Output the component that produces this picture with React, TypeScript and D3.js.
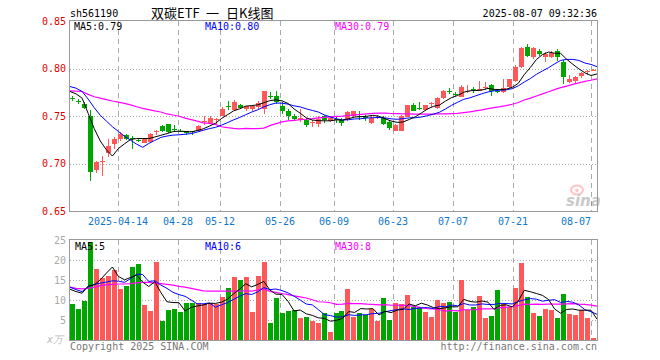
import React from "react";
import * as d3 from "d3";

// trading days shown (2025)
const dates = [
  "04-01", "04-02", "04-03", "04-07", "04-08", "04-09", "04-10", "04-11", "04-14", "04-15",
  "04-16", "04-17", "04-18", "04-21", "04-22", "04-23", "04-24", "04-25", "04-28", "04-29",
  "04-30", "05-06", "05-07", "05-08", "05-09", "05-12", "05-13", "05-14", "05-15", "05-16",
  "05-19", "05-20", "05-21", "05-22", "05-23", "05-26", "05-27", "05-28", "05-29", "05-30",
  "06-03", "06-04", "06-05", "06-06", "06-09", "06-10", "06-11", "06-12", "06-13", "06-16",
  "06-17", "06-18", "06-19", "06-20", "06-23", "06-24", "06-25", "06-26", "06-27", "06-30",
  "07-01", "07-02", "07-03", "07-04", "07-07", "07-08", "07-09", "07-10", "07-11", "07-14",
  "07-15", "07-16", "07-17", "07-18", "07-21", "07-22", "07-23", "07-24", "07-25", "07-28",
  "07-29", "07-30", "07-31", "08-01", "08-04", "08-05", "08-06", "08-07",
];

const opens = [
  0.769, 0.766, 0.763, 0.750, 0.694, 0.702, 0.711, 0.721, 0.726, 0.730,
  0.727, 0.725, 0.722, 0.723, 0.733, 0.740, 0.742, 0.737, 0.735, 0.734,
  0.734, 0.735, 0.744, 0.743, 0.746, 0.750, 0.761, 0.757, 0.762, 0.758,
  0.758, 0.760, 0.758, 0.771, 0.771, 0.761, 0.756, 0.750, 0.746, 0.746,
  0.743, 0.742, 0.750, 0.745, 0.747, 0.746, 0.747, 0.750, 0.7505, 0.749,
  0.743, 0.748, 0.748, 0.744, 0.735, 0.735, 0.749, 0.762, 0.759, 0.757,
  0.763, 0.759, 0.769, 0.777, 0.7735, 0.770, 0.776, 0.7785, 0.777, 0.780,
  0.783, 0.7762, 0.775, 0.781, 0.787, 0.802, 0.823, 0.812, 0.819, 0.812,
  0.812, 0.818, 0.807, 0.786, 0.787, 0.792, 0.797, 0.798,
];
const highs = [
  0.771, 0.768, 0.765, 0.757, 0.703, 0.708, 0.726, 0.728, 0.733, 0.731,
  0.729, 0.726, 0.727, 0.732, 0.736, 0.741, 0.742, 0.741, 0.737, 0.735,
  0.735, 0.741, 0.750, 0.750, 0.748, 0.760, 0.766, 0.767, 0.763, 0.761,
  0.762, 0.766, 0.777, 0.775, 0.776, 0.765, 0.758, 0.752, 0.758, 0.748,
  0.746, 0.750, 0.751, 0.750, 0.749, 0.748, 0.755, 0.756, 0.755, 0.751,
  0.750, 0.751, 0.750, 0.746, 0.742, 0.751, 0.762, 0.764, 0.765, 0.762,
  0.765, 0.770, 0.778, 0.780, 0.775, 0.783, 0.783, 0.781, 0.787, 0.786,
  0.784, 0.778, 0.789, 0.789, 0.804, 0.823, 0.826, 0.823, 0.821, 0.817,
  0.818, 0.821, 0.809, 0.793, 0.792, 0.796, 0.799, 0.800,
];
const lows = [
  0.766, 0.763, 0.758, 0.682, 0.690, 0.687, 0.707, 0.716, 0.724, 0.725,
  0.716, 0.723, 0.722, 0.722, 0.730, 0.733, 0.732, 0.734, 0.733, 0.730,
  0.730, 0.734, 0.741, 0.742, 0.742, 0.750, 0.757, 0.756, 0.758, 0.756,
  0.756, 0.758, 0.752, 0.768, 0.763, 0.752, 0.746, 0.745, 0.744, 0.739,
  0.739, 0.739, 0.743, 0.744, 0.743, 0.740, 0.745, 0.748, 0.746, 0.745,
  0.742, 0.747, 0.741, 0.736, 0.734, 0.734, 0.749, 0.756, 0.757, 0.756,
  0.760, 0.758, 0.768, 0.773, 0.771, 0.770, 0.774, 0.774, 0.776, 0.778,
  0.771, 0.774, 0.774, 0.780, 0.786, 0.801, 0.812, 0.810, 0.813, 0.807,
  0.811, 0.808, 0.784, 0.785, 0.784, 0.790, 0.793, 0.797,
];
const closes = [
  0.768, 0.765, 0.759, 0.691, 0.702, 0.703, 0.719, 0.726, 0.731, 0.726,
  0.726, 0.724, 0.726, 0.731, 0.734, 0.735, 0.733, 0.736, 0.734, 0.732,
  0.733, 0.740, 0.745, 0.748, 0.747, 0.758, 0.760, 0.765, 0.759, 0.761,
  0.761, 0.764, 0.776, 0.770, 0.765, 0.756, 0.750, 0.747, 0.748, 0.741,
  0.744, 0.747, 0.746, 0.748, 0.746, 0.743, 0.754, 0.755, 0.750, 0.748,
  0.748, 0.749, 0.742, 0.738, 0.741, 0.750, 0.762, 0.756, 0.758, 0.762,
  0.764, 0.769, 0.777, 0.776, 0.773, 0.781, 0.777, 0.778, 0.779, 0.781,
  0.776, 0.7758, 0.780, 0.789, 0.802, 0.822, 0.813, 0.822, 0.815, 0.815,
  0.816, 0.812, 0.791, 0.789, 0.791, 0.795, 0.798, 0.799,
];
// volume, unit 万
const volumes = [
  9, 7.75, 9.75, 24.6, 17.75, 15.4, 16, 17.5, 12.75, 13.6,
  18.3, 19, 8.75, 7.25, 19.6, 4.75, 7.5, 7.75, 7, 9.25,
  9.25, 9.25, 9, 9.25, 9, 10.75, 13, 15.75, 15, 15.75,
  7, 16, 19.5, 4.25, 10.5, 6.75, 7.25, 7.5, 5.5, 5.75,
  4.75, 4.25, 6.75, 2.0, 6.75, 7.25, 12.75, 5.75, 6.75, 6.25,
  7.75, 4.75, 10.5, 5.0, 9.25, 9.0, 11.25, 8.25, 8.25, 7.0,
  5.75, 10.0, 9.25, 9.5, 7.0, 15, 7.5, 8.3, 11, 5.5,
  6, 12.5, 9, 8.3, 13, 19.3, 10.75, 6.75, 6, 7.75,
  7.5, 5.5, 11.5, 6.5, 6.25, 7.5, 5.5, 0.4,
];

// moving average values before the window is full (they come from days off the chart)
const ma5Lead = [0.776, 0.7735, 0.769, 0.753];
const ma10Lead = [0.7812, 0.7795, 0.776, 0.768, 0.759, 0.751, 0.745, 0.739, 0.734];
const ma30Lead = [
  0.7766, 0.7764, 0.776, 0.773, 0.7705, 0.769, 0.7675, 0.766, 0.7648, 0.7636,
  0.762, 0.76, 0.7583, 0.7569, 0.7556, 0.7545, 0.7524, 0.7513, 0.75, 0.748,
  0.7465, 0.7449, 0.7431, 0.7426, 0.7415, 0.739, 0.738, 0.7372, 0.7368,
];
const volMa5Lead = [12.7, 12.1, 11.7, 13.5];
const volMa10Lead = [13.2, 12.6, 12.1, 13.3, 13.9, 14.2, 14.5, 14.8, 14.7];
const volMa30Lead = [
  13.2, 12.9, 12.8, 12.9, 13.2, 13.6, 13.8, 13.9, 14.0, 14.0,
  14.1, 14.3, 14.4, 14.4, 14.2, 14.1, 13.9, 13.7, 13.4, 13.2,
  12.9, 12.6, 12.3, 12.2, 12.2, 12.2, 12.2, 12.2, 12.2,
];

const priceTicks = [0.65, 0.7, 0.75, 0.8, 0.85];
const volTicks = [5, 10, 15, 20, 25];
const dateTicks = ["04-14", "04-28", "05-12", "05-26", "06-09", "06-23", "07-07", "07-21", "08-07"];
const titleParts = ["双碳ETF", "一", "日K线图"];

const RED = "#ff5858";
const GREEN = "#00a600";
const MONO = "'DejaVu Sans Mono', monospace";

const movingAvg = (vals: number[], n: number, lead: number[]) =>
  vals.map((v, i) => (i < n - 1 ? lead[i] : (d3.mean(vals.slice(i - n + 1, i + 1)) as number)));

const L = 70, R = 597;
const PT = 21, PB = 211.5;
const VT = 240, VB = 340;

export default function App() {
  const xb = d3.scaleBand<string>().domain(dates).range([L, R]).padding(0);
  const xp = d3.scalePoint<string>().domain(dates).range([L, R]);
  const y = d3.scaleLinear().domain([0.65, 0.85]).range([PB, PT]);
  const yv = d3.scaleLinear().domain([0, 25]).range([VB, VT]);

  const ma5 = movingAvg(closes, 5, ma5Lead);
  const ma10 = movingAvg(closes, 10, ma10Lead);
  const ma30 = movingAvg(closes, 30, ma30Lead);
  const vma5 = movingAvg(volumes, 5, volMa5Lead);
  const vma10 = movingAvg(volumes, 10, volMa10Lead);
  const vma30 = movingAvg(volumes, 30, volMa30Lead);

  const pLine = d3.line<number>().x((_, i) => xp(dates[i]) as number).y((d) => y(d));
  const vLine = d3.line<number>().x((_, i) => xp(dates[i]) as number).y((d) => yv(d));

  const bx = (d: string) => Math.round(xb(d) as number);
  const last = dates.length - 1;
  const f2 = d3.format(".2f");
  const f0 = d3.format(".0f");
  const titleX = [151, 206, 226];

  return (
    <svg width={660} height={360} style={{ position: "absolute", left: 0, top: 0, background: "#fff" }}
      fontFamily={MONO} fontSize={10}>
      {/* header */}
      <text x={70} y={17} fill="#000">sh561190</text>
      {titleParts.map((t, i) => (
        <text key={t} x={titleX[i]} y={18} fontFamily="'Noto Sans CJK SC', sans-serif" fontSize={13}
          fill="#000">{t}</text>
      ))}
      <text x={597} y={17} textAnchor="end" fill="#000">2025-08-07 09:32:36</text>

      {/* price grid */}
      {priceTicks.slice(1, -1).map((t) => (
        <line key={"pg" + t} x1={L} x2={R} y1={Math.round(y(t)) + 0.5} y2={Math.round(y(t)) + 0.5}
          stroke="#aaa" strokeDasharray="1,2" />
      ))}
      {dateTicks.map((d) => (
        <g key={"dv" + d}>
          <line x1={bx(d) + 0.5} x2={bx(d) + 0.5} y1={PT} y2={PB} stroke="#aaa" strokeDasharray="5,4" />
          <line x1={bx(d) + 0.5} x2={bx(d) + 0.5} y1={VT} y2={VB} stroke="#aaa" strokeDasharray="5,4" />
        </g>
      ))}
      {volTicks.slice(0, -1).map((t) => (
        <line key={"vg" + t} x1={L} x2={R} y1={Math.round(yv(t)) + 0.5} y2={Math.round(yv(t)) + 0.5}
          stroke="#aaa" strokeDasharray="1,2" />
      ))}

      {/* sina mark */}
      <g opacity={0.35}>
        <ellipse cx={577} cy={190} rx={6} ry={4.5} fill="none" stroke="#f55" strokeWidth={2} />
        <circle cx={577} cy={190.5} r={1.8} fill="#f55" />
        <text x={566} y={206} fontFamily="'DejaVu Sans', sans-serif" fontSize={15} fontWeight="bold"
          fontStyle="italic" fill="#666">sina</text>
      </g>

      {/* candles */}
      <g shapeRendering="crispEdges">
        {dates.map((d, i) => {
          const up = closes[i] >= opens[i];
          const c = up ? RED : GREEN;
          const x0 = bx(d);
          const top = Math.round(y(Math.max(opens[i], closes[i])));
          const bot = Math.round(y(Math.min(opens[i], closes[i])));
          return (
            <g key={"c" + d} fill={c}>
              <rect x={x0 + 2} width={1} y={Math.round(y(highs[i]))}
                height={Math.max(1, Math.round(y(lows[i])) - Math.round(y(highs[i])))} />
              <rect x={x0} width={5} y={top} height={Math.max(1, bot - top)} />
            </g>
          );
        })}
      </g>
      <path d={pLine(ma30) as string} fill="none" stroke="#ff00ff" strokeWidth={1.2} />
      <path d={pLine(ma10) as string} fill="none" stroke="#0000ff" strokeWidth={1} />
      <path d={pLine(ma5) as string} fill="none" stroke="#000" strokeWidth={1} />

      {/* volume bars */}
      <g shapeRendering="crispEdges">
        {dates.map((d, i) => (
          <rect key={"v" + d} x={bx(d)} width={5} y={Math.round(yv(volumes[i]))}
            height={VB - Math.round(yv(volumes[i]))}
            fill={closes[i] >= opens[i] ? RED : GREEN} />
        ))}
      </g>
      <path d={vLine(vma30) as string} fill="none" stroke="#ff00ff" strokeWidth={1.2} />
      <path d={vLine(vma10) as string} fill="none" stroke="#0000ff" strokeWidth={1} />
      <path d={vLine(vma5) as string} fill="none" stroke="#000" strokeWidth={1} />

      {/* frames */}
      <rect x={L - 0.5} y={PT - 0.5} width={R - L + 1} height={PB - PT + 0.5} fill="none" stroke="#999" />
      <rect x={L - 0.5} y={VT - 0.5} width={R - L + 1} height={VB - VT + 1} fill="none" stroke="#999" />

      {/* price axis */}
      {priceTicks.map((t) => (
        <text key={"pl" + t} x={66} y={y(t)} dy="0.35em" textAnchor="end" fill="#e00000">{f2(t)}</text>
      ))}
      {dateTicks.map((d, i) => (
        <text key={"dl" + d} x={bx(d)} y={225} textAnchor={i === dateTicks.length - 1 ? "end" : "middle"}
          fill="#1177cc">{i === 0 ? "2025-" + d : d}</text>
      ))}

      {/* volume axis */}
      {volTicks.map((t) => (
        <text key={"vl" + t} x={66} y={yv(t)} dy="0.35em" textAnchor="end" fill="#aaa">{t}</text>
      ))}
      <text x={63} y={343} textAnchor="end" fill="#bbb" fontStyle="italic">x万</text>

      {/* legends */}
      <text x={74} y={30} fill="#000">MA5:{f2(ma5[last])}</text>
      <text x={205} y={30} fill="#0000ff">MA10:{f2(ma10[last])}</text>
      <text x={335} y={30} fill="#ff00ff">MA30:{f2(ma30[last])}</text>
      <text x={75} y={250} fill="#000">MA5:{f0(vma5[last])}</text>
      <text x={205} y={250} fill="#0000ff">MA10:{f0(vma10[last])}</text>
      <text x={335} y={250} fill="#ff00ff">MA30:{f0(vma30[last])}</text>

      {/* footer */}
      <text x={70} y={350} fill="#777">Copyright 2025 SINA.COM</text>
      <text x={597} y={350} textAnchor="end" fill="#777">http://finance.sina.com.cn</text>
    </svg>
  );
}
